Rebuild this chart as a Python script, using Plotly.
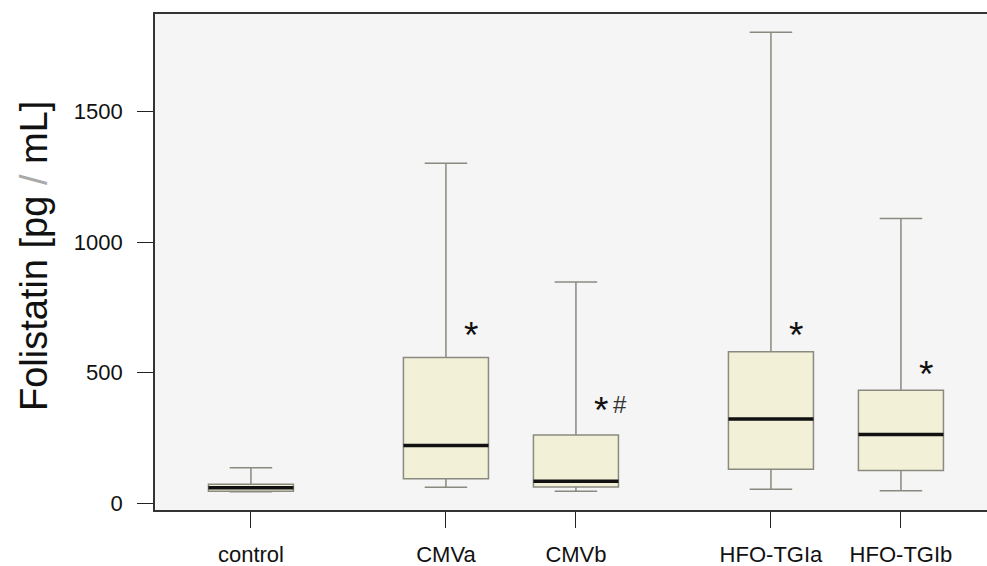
import plotly.graph_objects as go

# Group labels and their x positions (gap between control / CMV / HFO-TGI blocks)
groups = ["control", "CMVa", "CMVb", "HFO-TGIa", "HFO-TGIb"]
positions = [0, 1.5, 2.5, 4, 5]

# Box statistics (pg/mL)
lower_whisker = [43, 60, 45, 53, 47]
q1 = [45, 93, 61, 129, 125]
median = [58, 220, 83, 322, 263]
q3 = [72, 558, 261, 580, 432]
upper_whisker = [135, 1302, 847, 1804, 1090]

# Significance marks: group index, symbol, label height
sig_group = [1, 2, 2, 3, 4]
sig_text = ["*", "*", "#", "*", "*"]
sig_y = [664, 378, 378, 664, 516]

y_ticks = [0, 500, 1000, 1500]

BOX_W = 0.654
FONT = "Liberation Sans, Arial, sans-serif"

fig = go.Figure()

for i, g in enumerate(groups):
    fig.add_trace(go.Box(
        x=[positions[i]],
        q1=[q1[i]], median=[median[i]], q3=[q3[i]],
        lowerfence=[lower_whisker[i]], upperfence=[upper_whisker[i]],
        width=BOX_W, whiskerwidth=0.5,
        fillcolor="#F3F0D8",
        line=dict(color="#8a8a80", width=1.5),
        boxpoints=False, name=g, showlegend=False, hoverinfo="skip",
    ))
    # heavy median bar
    fig.add_trace(go.Scatter(
        x=[positions[i] - BOX_W / 2, positions[i] + BOX_W / 2],
        y=[median[i], median[i]],
        mode="lines", line=dict(color="#111111", width=3.5),
        showlegend=False, hoverinfo="skip",
    ))

for gi, t, yv in zip(sig_group, sig_text, sig_y):
    if t == "*":
        fig.add_annotation(x=positions[gi] + 0.19, y=yv, text="*", showarrow=False,
                           font=dict(family=FONT, size=37, color="#111111"),
                           xanchor="center", yanchor="middle", yshift=-6)
    else:
        fig.add_annotation(x=positions[gi] + 0.34, y=yv, text="#", showarrow=False,
                           font=dict(family=FONT, size=24, color="#333333"),
                           xanchor="center", yanchor="middle", yshift=0)

fig.add_annotation(
    xref="paper", yref="paper", x=(34 - 155) / 832, y=0.512,
    text="Folistatin [pg <span style='color:#aaaaaa'>/</span> mL]",
    textangle=-90, showarrow=False, xanchor="center", yanchor="middle",
    font=dict(family=FONT, size=38, color="#111111"),
)

fig.update_xaxes(
    range=[-0.738, 5.662], tickvals=positions, ticktext=groups,
    showline=True, linecolor="#333333", linewidth=1.8, mirror=True,
    ticks="outside", ticklen=16, tickwidth=1.2, tickcolor="#222222",
    tickfont=dict(family=FONT, size=22, color="#111111"),
    ticklabelstandoff=8,
    showgrid=False, zeroline=False,
)
fig.update_yaxes(
    range=[-26.8, 1874], tickvals=y_ticks,
    showline=True, linecolor="#333333", linewidth=1.8,
    ticks="outside", ticklen=16, tickwidth=1.2, tickcolor="#222222",
    tickfont=dict(family=FONT, size=22, color="#111111"),
    ticklabelstandoff=10,
    showgrid=False, zeroline=False,
)

fig.update_layout(
    width=987, height=566,
    margin=dict(l=155, r=0, t=14, b=56),
    paper_bgcolor="white", plot_bgcolor="#F5F5F5",
    font=dict(family=FONT),
)

fig.write_html("out.html")
